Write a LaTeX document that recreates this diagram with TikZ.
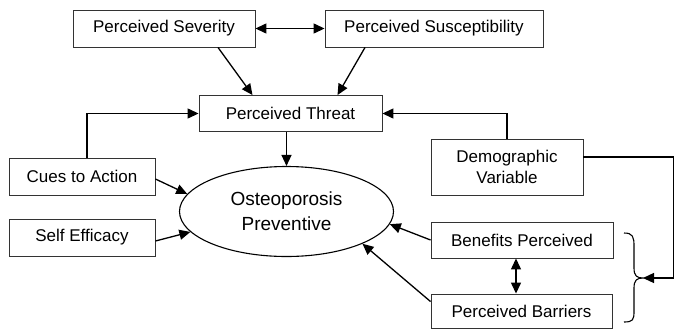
\documentclass[tikz,border=0pt]{standalone}
\usepackage{fontspec}
\setmainfont{Liberation Sans}
\usetikzlibrary{arrows.meta,shapes.geometric}
\begin{document}
\begin{tikzpicture}[x=1pt,y=-1pt,
  box/.style={draw=black!80,line width=0.9pt,fill=white,inner sep=0pt,align=center,font=\fontsize{17}{21}\selectfont},
  conn/.style={line width=1.3pt,-{Triangle[length=11pt,width=10pt]}},
  dconn/.style={line width=1.3pt,{Triangle[length=11pt,width=10pt]}-{Triangle[length=11pt,width=10pt]}},
  plain/.style={line width=1.3pt}]
\useasboundingbox (0,0) rectangle (675,330);
\node[box,minimum width=182pt,minimum height=37pt] (sev) at (164,28.5) {Perceived Severity};
\node[box,minimum width=218pt,minimum height=37pt] (sus) at (434,28.5) {Perceived Susceptibility};
\node[box,minimum width=183pt,minimum height=36pt] (threat) at (290.5,113.5) {Perceived Threat};
\node[box,minimum width=146pt,minimum height=37pt] (cues) at (82,176.5) {Cues to Action};
\node[box,minimum width=146pt,minimum height=37pt] (self) at (82,237.5) {Self Efficacy};
\node[ellipse,draw=black,line width=1.1pt,inner sep=0pt,minimum width=214pt,minimum height=90pt,align=center,font=\fontsize{19}{25}\selectfont] (ell) at (286.5,211.5) {Osteoporosis\\Preventive};
\node[box,minimum width=152pt,minimum height=56pt] (demo) at (507,167) {Demographic\\Variable};
\node[box,minimum width=182pt,minimum height=36pt] (ben) at (522,240) {Benefits Perceived};
\node[box,minimum width=181pt,minimum height=34pt] (bar) at (521.5,311) {Perceived Barriers};
\coordinate (tip) at (643,278);
\coordinate (rc) at (673.5,278);
% arrows
\draw[dconn] (sev.east) -- (sus.west);
\draw[conn] ([xshift=54pt]sev.south) -- ([xshift=-38pt]threat.north);
\draw[conn] ([xshift=-69pt]sus.south) -- ([xshift=47pt]threat.north);
\draw[conn] (threat.south -| ell.north) -- (ell.north);
\draw[conn] ([xshift=5pt]cues.north) |- (threat.west);
\draw[conn] (demo.north) |- (threat.east);
\draw[conn] ([yshift=-2.5pt]cues.east) -- (ell.170);
\draw[conn] ([yshift=-3.5pt]self.east) -- (ell.192);
\draw[conn] (ben.west) -- (ell.353);
\draw[conn] ([yshift=-8pt]bar.north west) -- (ell.337);
\draw[dconn] ([xshift=-6pt]ben.south) -- ([xshift=-6pt]ben.south |- bar.north);
% brace
\draw[plain,line width=1.1pt] (624,233) .. controls (633,233) and (634,237) .. (634,246) -- (634,268) .. controls (634,276) and (637,278) .. (tip) .. controls (637,278) and (634,280) .. (634,288) -- (634,311) .. controls (634,320) and (633,322) .. (624,322);
\draw[conn] ([yshift=10pt]demo.east) -| (rc) -- (tip);
\end{tikzpicture}
\end{document}
